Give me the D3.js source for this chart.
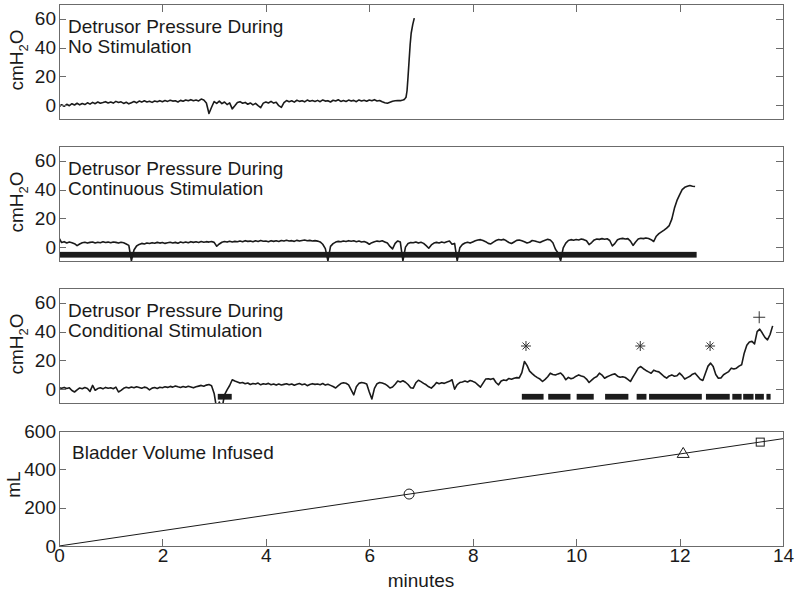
<!DOCTYPE html>
<html>
<head>
<meta charset="utf-8">
<script src="https://cdn.jsdelivr.net/npm/d3@7"></script>
<style>
  html, body { margin: 0; padding: 0; background: #fff; }
  svg { display: block; }
  text { font-family: "Liberation Sans", Arial, Helvetica, sans-serif; fill: #1a1a1a; }
</style>
</head>
<body>
<svg id="chart" width="800" height="593"></svg>
<script>
// ---------------- DATA ----------------
const timeStep = 0.05; // minutes between samples of the pressure traces

// Panel 1: No stimulation (samples from t = 0, every 0.05 min)
const noStimPressure = [
  -1.2, 0.3, -0.8, 0.6, -0.4, 1.0, 0.1, 1.3, 0.2, 1.1, 0.4, 1.6, 0.7, 1.9, 1.0, 2.2, 1.3, 1.8, 2.4, 1.5,
  2.1, 1.4, 2.6, 1.8, 2.3, 1.2, 2.0, 0.9, 1.7, 2.5, 1.6, 2.8, 2.1, 3.0, 2.2, 2.7, 1.9, 2.9, 2.3, 3.1,
  2.4, 3.2, 2.6, 3.4, 2.8, 3.0, 2.2, 3.3, 2.7, 3.6, 3.0, 3.8, 3.1, 3.5, 2.9, 4.2, 3.6, 1.5, -5.8, -1.5,
  2.5, 1.2, 2.8, 1.0, 2.2, 0.4, 1.6, -2.6, -0.5, 1.8, 2.4, 1.3, 1.9, 0.6, 1.5, 0.2, 1.2, -0.4, -1.8, 1.4,
  2.2, 1.5, 2.6, 1.4, 2.0, -0.4, -1.6, 1.8, 3.2, 2.4, 3.0, 2.1, 3.4, 2.6, 3.1, 2.3, 3.5, 2.7, 3.2, 2.5,
  3.3, 2.4, 3.6, 2.8, 3.1, 2.2, 3.4, 2.9, 3.7, 2.6, 3.2, 2.5, 3.5, 2.8, 3.3, 2.4, 3.6, 2.9, 3.4, 2.7,
  3.5, 3.0, 3.8, 2.9, 3.2, 2.3, 1.6, 1.3, 2.0, 2.7, 3.0, 3.2, 3.1, 3.6
];
// Voiding contraction at the end of the no-stimulation trace
const noStimRiseTime  = [6.68, 6.71, 6.73, 6.75, 6.77, 6.79, 6.81, 6.84, 6.87];
const noStimRiseValue = [4.0, 5.4, 10, 20, 31, 42, 50, 56, 60.5];

// Panel 2: Continuous stimulation (from t = 0, every 0.05 min)
const contStimPressure = [
  6.5, 3.2, 3.8, 2.9, 3.5, 3.1, 2.4, 1.0, 2.2, 3.0, 3.4, 2.8, 3.3, 3.6, 2.9, 3.4, 3.1, 3.7, 3.2, 3.5,
  3.0, 3.6, 3.3, 2.8, 3.4, 3.0, 2.2, 1.2, -9.5, -2.0, 0.8, 1.9, 2.6, 2.2, 2.9, 2.5, 3.1, 2.7, 3.3, 2.8,
  3.2, 2.6, 3.0, 3.4, 2.9, 3.3, 2.7, 3.5, 3.1, 3.6, 3.0, 3.8, 3.3, 3.7, 3.2, 3.9, 3.4, 3.8, 3.5, 3.9,
  3.3, 0.6, 2.2, 3.4, 3.9, 3.5, 4.1, 3.6, 4.0, 3.7, 4.3, 3.8, 4.5, 4.0, 4.2, 3.7, 4.4, 3.9, 4.6, 4.1,
  4.3, 3.8, 4.5, 4.0, 4.4, 3.9, 4.6, 4.2, 4.8, 4.3, 4.5, 4.0, 4.7, 4.2, 4.6, 4.9, 4.4, 4.7, 4.3, 4.5,
  4.2, 3.6, 2.0, -1.0, -9.5, 0.5, 2.4, 3.5, 4.0, 3.7, 4.3, 3.9, 4.5, 4.1, 4.4, 3.8, 4.2, 3.6, 3.9, 3.2,
  2.0, 3.1, 3.8, 4.2, 3.9, 4.4, 3.6, 2.8, 0.5, -1.2, 2.6, 4.3, 3.5, -9.5, 0.0, 2.5, 3.2, 3.0, 3.6, 2.8,
  3.4, 2.6, 1.0, -0.8, 1.5, 2.8, 3.3, 2.9, 3.5, 3.1, 3.8, 4.2, 2.0, 2.6, -9.5, -0.5, 1.8, 2.9, 3.4, 2.8,
  3.6, 4.4, 4.9, 5.2, 4.6, 3.8, 2.6, 2.2, 3.5, 4.6, 5.3, 4.9, 5.4, 4.4, 3.2, 2.5, 3.6, 4.7, 5.0, 4.5,
  3.8, 2.9, 3.4, 4.6, 4.3, 3.7, 3.2, 4.1, 4.8, 5.4, 5.0, 3.0, -1.5, -4.0, -9.5, -0.5, 2.8, 4.6, 5.2, 4.8,
  5.3, 5.0, 5.6, 5.2, 4.4, 1.8, 3.2, 5.0, 5.7, 5.4, 5.9, 5.5, 5.8, 4.6, 0.8, 2.6, 5.1, 5.8, 6.1, 5.7,
  5.9, 4.2, 1.2, 3.6, 5.6, 6.2, 5.9, 6.4, 6.0, 5.2, 3.9, 7.6, 9.4, 10.6, 11.8, 13.2, 15.0, 19.5, 27.0, 32.5,
  36.4, 40.0, 41.6, 42.3, 42.9, 42.4, 42.2
];
const contStimStart = [0];
const contStimEnd   = [12.33];

// Panel 3: Conditional stimulation (from t = 0, every 0.05 min)
const condStimPressure = [
  1.0, 0.6, 1.2, 0.4, 0.9, -1.0, -2.0, -0.6, 0.8, 0.3, 1.1, 0.5, -1.6, 2.6, -0.8, 0.4, 0.9, 0.2, 1.2, 0.6,
  0.9, 0.3, 1.4, -2.0, -0.9, 0.6, 1.3, 0.8, 1.5, 1.0, 1.7, 1.2, 0.6, 1.4, 0.9, -0.5, 0.7, 1.1, 0.5, 1.3,
  1.0, 1.6, 1.2, 1.9, 1.4, 2.2, 1.6, 1.1, 1.8, 1.3, 2.0, 1.5, 0.9, 1.6, 2.1, 2.6, 2.0, 2.8, 3.2, 2.4,
  -3.0, -14, -9, -14, -4.0, -0.5, 2.5, 6.5, 5.6, 5.0, 4.2, 4.6, 3.8, 4.3, 3.2, 3.9, 3.5, 4.2, 3.0, 3.7,
  3.4, 4.0, 3.1, 3.6, 2.8, 3.5, 2.9, 3.3, 3.7, 3.0, 3.6, 2.7, 3.4, 3.9, 3.1, 3.6, 2.4, 3.2, 3.8, 3.3,
  3.6, 3.1, 3.9, 2.8, 3.4, 2.6, 1.8, 0.8, 2.4, 3.9, 4.4, 4.1, 3.0, -0.5, -4.0, 1.6, 4.0, 4.6, 4.2, 3.5,
  -2.0, -6.9, 0.5, 3.8, 4.6, 4.2, 3.6, 2.4, 0.8, 1.5, 3.4, 5.6, 5.0, 5.8, 4.8, 3.2, 1.0, 0.7, 4.4, 6.2,
  5.2, 4.0, 3.0, 1.6, 0.7, 2.4, 4.6, 3.8, 4.4, 4.0, 4.8, 5.4, 6.5, 0.0, 3.2, 4.6, 5.0, 5.6, 5.0, 6.0,
  5.4, 4.6, 3.0, 1.4, 4.2, 7.0, 7.2, 6.8, 7.4, 4.6, 3.0, 5.6, 6.4, 6.0, 7.4, 6.9, 7.6, 8.0, 7.8, 11.5,
  19.2, 16.5, 12.5, 10.8, 9.2, 8.0, 7.0, 5.3, 6.8, 8.6, 11.1, 10.2, 9.8, 10.6, 11.2, 9.4, 6.5, 8.2, 7.2, 7.8,
  9.0, 9.9, 9.2, 8.6, 7.0, 4.6, 6.2, 7.8, 8.8, 11.1, 9.8, 7.6, 8.6, 9.4, 10.2, 10.6, 9.0, 8.3, 8.6, 8.1,
  6.8, 5.3, 8.5, 11.5, 14.6, 15.7, 14.2, 13.0, 12.0, 11.1, 13.2, 12.4, 12.0, 10.4, 8.8, 7.6, 9.2, 9.9, 9.0, 9.3,
  11.1, 9.4, 7.0, 8.0, 8.9, 10.4, 11.1, 9.0, 6.9, 6.0, 11.1, 16.0, 18.1, 15.7, 10.2, 7.6, 7.8, 10.0, 11.1, 12.2,
  14.6, 14.0, 14.6, 16.0, 16.9, 25.0, 30.5, 32.8, 33.2, 31.5, 40.0, 41.7, 39.0, 36.0, 34.3, 38.0, 44.0
];
const condStimStart = [3.07, 8.95, 9.46, 10.01, 10.56, 11.17, 11.41, 12.51, 13.02, 13.23, 13.46, 13.68];
const condStimEnd   = [3.34, 9.37, 9.89, 10.34, 11.01, 11.36, 12.43, 12.97, 13.20, 13.43, 13.63, 13.76];
const asteriskTimes = [9.03, 11.24, 12.59];
const asteriskValue = 30;
const plusTimes = [13.54];
const plusValue = 50;

// Panel 4: Bladder volume infused
const volumeTime  = [0, 14];
const volumeValue = [0, 560];
const circleMark   = [6.77, 271];
const triangleMark = [12.07, 483];
const squareMark   = [13.56, 542];

// Axis ticks / labels
const xTicks = [0, 2, 4, 6, 8, 10, 12, 14];
const pressureTicks = [0, 20, 40, 60];
const volumeTicks = [0, 200, 400, 600];
const panelTitles = [
  ["Detrusor Pressure During", "No Stimulation"],
  ["Detrusor Pressure During", "Continuous Stimulation"],
  ["Detrusor Pressure During", "Conditional Stimulation"]
];
const volumeTitle = "Bladder Volume Infused";
const xLabel = "minutes";

// ---------------- DRAWING ----------------
const svg = d3.select("#chart");
const left = 59, right = 783;
const panelH = 115;
const panelTops = [4.5, 146.5, 288.5, 431];
const frameColor = "#6b6b6b";
const inkColor = "#1a1a1a";
const tickLen = 7;

const x = d3.scaleLinear().domain([0, 14]).range([left, right]);

function seriesFrom(values) {
  return values.map((v, i) => [i * timeStep, v]);
}

function frame(g, y, opts) {
  const top = y.range()[1], bottom = y.range()[0];
  g.append("g").attr("transform", `translate(${left},0)`)
    .call(d3.axisLeft(y).tickValues(opts.yTicks).tickSize(-tickLen).tickPadding(3).tickFormat(d3.format("d")))
    .call(a => a.select(".domain").remove())
    .call(a => a.selectAll("line").attr("stroke", frameColor).attr("shape-rendering", "crispEdges"))
    .call(a => a.selectAll("text").attr("font-size", 19).attr("fill", inkColor)
      .style("font-family", '"Liberation Sans", Arial, sans-serif'));
  g.append("g").attr("transform", `translate(${right},0)`)
    .call(d3.axisRight(y).tickValues(opts.yTicks).tickSize(-tickLen).tickFormat(""))
    .call(a => a.select(".domain").remove())
    .call(a => a.selectAll("line").attr("stroke", frameColor).attr("shape-rendering", "crispEdges"));
  if (opts.topTicks) {
    g.append("g").attr("transform", `translate(0,${top})`)
      .call(d3.axisTop(x).tickValues(xTicks.slice(1, -1)).tickSize(-tickLen).tickFormat(""))
      .call(a => a.select(".domain").remove())
      .call(a => a.selectAll("line").attr("stroke", frameColor).attr("shape-rendering", "crispEdges"));
  }
  if (opts.bottomAxis) {
    g.append("g").attr("transform", `translate(0,${bottom})`)
      .call(d3.axisBottom(x).tickValues(xTicks).tickSize(-tickLen).tickPadding(2).tickFormat(d3.format("d")))
      .call(a => a.select(".domain").remove())
      .call(a => a.selectAll("line").attr("stroke", frameColor).attr("shape-rendering", "crispEdges")
        .filter(d => d === 0 || d === 14).remove())
      .call(a => a.selectAll("text").attr("font-size", 19).attr("fill", inkColor)
        .style("font-family", '"Liberation Sans", Arial, sans-serif'));
  }
  g.append("rect")
    .attr("x", left).attr("y", top)
    .attr("width", right - left).attr("height", bottom - top)
    .attr("fill", "none").attr("stroke", frameColor).attr("stroke-width", 1)
    .attr("shape-rendering", "crispEdges");
}

function yLabelPressure(g, y) {
  const mid = (y.range()[0] + y.range()[1]) / 2 - 2;
  const t = g.append("text")
    .attr("transform", `translate(23,${mid}) rotate(-90)`)
    .attr("text-anchor", "middle")
    .attr("font-size", 19);
  t.append("tspan").text("cmH");
  t.append("tspan").text("2").attr("font-size", 13).attr("dy", 5);
  t.append("tspan").text("O").attr("dy", -5);
}

function drawStimBars(g, y, starts, ends) {
  g.selectAll(null).data(starts.map((s, i) => [s, ends[i]])).enter()
    .append("rect")
    .attr("x", d => x(d[0]))
    .attr("width", d => x(d[1]) - x(d[0]))
    .attr("y", y(-3.3))
    .attr("height", y(-7.3) - y(-3.3))
    .attr("fill", "#1c1c1c");
}

const line = (y) => d3.line().x(d => x(d[0])).y(d => y(d[1]));

[0, 1, 2].forEach(p => {
  const top = panelTops[p];
  const y = d3.scaleLinear().domain([-10, 70]).range([top + panelH, top]);
  const g = svg.append("g");
  const clipId = "clip" + p;
  svg.append("clipPath").attr("id", clipId).append("rect")
    .attr("x", left).attr("y", top).attr("width", right - left).attr("height", panelH);

  const plot = g.append("g").attr("clip-path", `url(#${clipId})`);

  let data;
  if (p === 0) {
    data = seriesFrom(noStimPressure).concat(noStimRiseTime.map((t, i) => [t, noStimRiseValue[i]]));
  } else if (p === 1) {
    data = seriesFrom(contStimPressure);
    drawStimBars(plot, y, contStimStart, contStimEnd);
  } else {
    data = seriesFrom(condStimPressure);
    drawStimBars(plot, y, condStimStart, condStimEnd);
  }
  plot.append("path").datum(data)
    .attr("d", line(y))
    .attr("fill", "none").attr("stroke", inkColor).attr("stroke-width", 1.6)
    .attr("stroke-linejoin", "round");

  if (p === 2) {
    const r = 5;
    asteriskTimes.forEach(t => {
      const cx = x(t), cy = y(asteriskValue);
      const d = `M${cx - r},${cy}L${cx + r},${cy}M${cx},${cy - r}L${cx},${cy + r}` +
        `M${cx - r * 0.7},${cy - r * 0.7}L${cx + r * 0.7},${cy + r * 0.7}` +
        `M${cx - r * 0.7},${cy + r * 0.7}L${cx + r * 0.7},${cy - r * 0.7}`;
      plot.append("path").attr("d", d).attr("stroke", "#333").attr("stroke-width", 1).attr("fill", "none");
    });
    plusTimes.forEach(t => {
      const cx = x(t), cy = y(plusValue), s = 6;
      plot.append("path").attr("d", `M${cx - s},${cy}L${cx + s},${cy}M${cx},${cy - s}L${cx},${cy + s}`)
        .attr("stroke", "#333").attr("stroke-width", 1).attr("fill", "none");
    });
  }

  frame(g, y, { yTicks: pressureTicks, topTicks: p === 0, bottomAxis: false });
  yLabelPressure(g, y);

  g.append("text").attr("x", 68).attr("y", top + 28).attr("font-size", 19).text(panelTitles[p][0]);
  g.append("text").attr("x", 68).attr("y", top + 48.5).attr("font-size", 19).text(panelTitles[p][1]);
});

{
  const top = panelTops[3];
  const y = d3.scaleLinear().domain([0, 600]).range([top + panelH, top]);
  const g = svg.append("g");
  const data = volumeTime.map((t, i) => [t, volumeValue[i]]);
  g.append("path").datum(data).attr("d", line(y))
    .attr("fill", "none").attr("stroke", inkColor).attr("stroke-width", 1);

  g.append("circle").attr("cx", x(circleMark[0])).attr("cy", y(circleMark[1])).attr("r", 5)
    .attr("fill", "none").attr("stroke", inkColor).attr("stroke-width", 1);
  {
    const cx = x(triangleMark[0]), cy = y(triangleMark[1]);
    g.append("path").attr("d", `M${cx},${cy - 6}L${cx + 6},${cy + 4}L${cx - 6},${cy + 4}Z`)
      .attr("fill", "none").attr("stroke", inkColor).attr("stroke-width", 1);
  }
  {
    const cx = x(squareMark[0]), cy = y(squareMark[1]);
    g.append("rect").attr("x", cx - 4).attr("y", cy - 4).attr("width", 8).attr("height", 8)
      .attr("fill", "none").attr("stroke", inkColor).attr("stroke-width", 1);
  }

  frame(g, y, { yTicks: volumeTicks, topTicks: false, bottomAxis: true });

  g.append("text")
    .attr("transform", `translate(20,${(top + top + panelH) / 2 - 4}) rotate(-90)`)
    .attr("text-anchor", "middle").attr("font-size", 19).text("mL");

  g.append("text").attr("x", 72).attr("y", top + 27.5).attr("font-size", 19).text(volumeTitle);

  svg.append("text").attr("x", (left + right) / 2).attr("y", 587)
    .attr("text-anchor", "middle").attr("font-size", 19).text(xLabel);
}
</script>
</body>
</html>
